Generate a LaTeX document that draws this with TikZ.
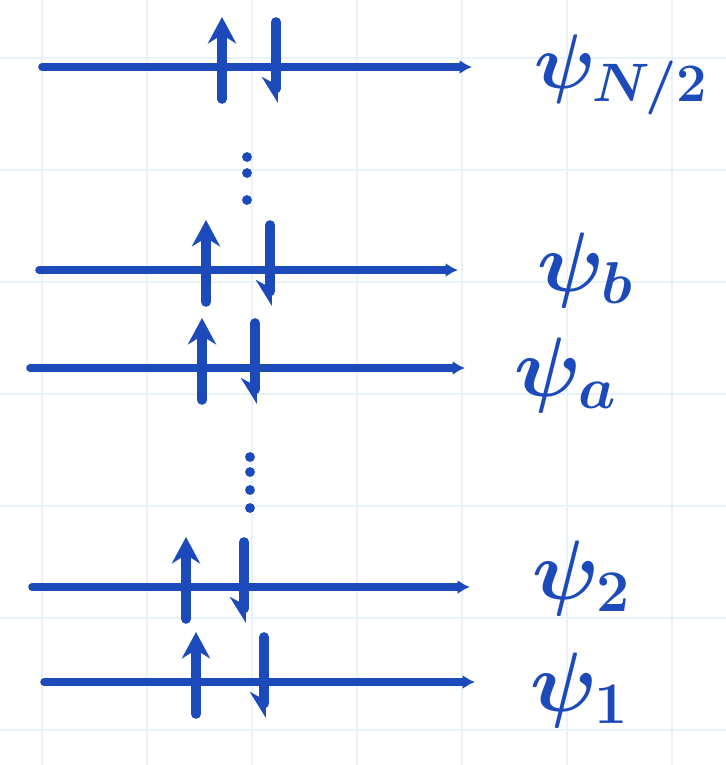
\RequirePackage{fix-cm}
\documentclass[tikz,border=0pt]{standalone}
\usepackage{tikz}
\usepackage{xcolor}
\usetikzlibrary{arrows.meta}

\definecolor{ink}{RGB}{28,74,186}
\definecolor{gridpaper}{RGB}{232,242,248}

\begin{document}
\begin{tikzpicture}[x=0.02cm, y=-0.02cm,
    levelline/.style={ink, line width=4.3pt, line cap=round, -{Latex[length=7pt,width=8pt]}},
    spinup/.style={ink, line width=5.5pt, line cap=round, -{Stealth[length=15pt,width=16pt]}},
    spindown/.style={ink, line width=5.5pt, line cap=round, -{Stealth[length=13pt,width=16pt,right]}},
    orblabel/.style={ink, anchor=base west, inner sep=0pt, font=\fontsize{48}{50}\selectfont\boldmath}]
  % Paper with faint grid
  \useasboundingbox (0,0) rectangle (726,765);
  \fill[white] (0,0) rectangle (726,765);
  \foreach \gx in {42,147,...,672} \draw[gridpaper, line width=0.6pt] (\gx,0) -- (\gx,765);
  \foreach \gy in {58,170,...,730} \draw[gridpaper, line width=0.6pt] (0,\gy) -- (726,\gy);

  % Define orbital level macro
  % #1=name, #2=y, #3=x left, #4=x right, #5=x up spin, #6=x down spin
  \newcommand{\orbitallevel}[6]{%
    \coordinate (#1-l) at (#3,#2);
    \coordinate (#1-r) at (#4,#2);
    \draw[levelline] (#1-l) -- (#1-r);
    \coordinate (#1-ua) at (#5,#2+32);
    \coordinate (#1-ub) at (#5,#2-50);
    \draw[spinup] (#1-ua) -- (#1-ub);
    \coordinate (#1-da) at (#6,#2-45);
    \coordinate (#1-db) at (#6,#2+36);
    \draw[spindown] (#1-da) -- (#1-db);
  }

  % Occupied levels, highest first
  \orbitallevel{lvN}{67}{42}{472}{222}{276}
  \orbitallevel{lvb}{270}{39}{458}{206}{270}
  \orbitallevel{lva}{368}{30}{465}{202}{255}
  \orbitallevel{lvtwo}{587}{32}{470}{186}{244}
  \orbitallevel{lvone}{682}{44}{475}{196}{264}

  % Level labels
  \node[orblabel, font=\fontsize{44}{46}\selectfont\boldmath] (psiN) at (534,88) {$\psi_{N/2}$};
  \node[orblabel] (psib) at (537,291) {$\psi_b$};
  \node[orblabel] (psia) at (514,396) {$\psi_a$};
  \node[orblabel] (psitwo) at (532,599) {$\psi_2$};
  \node[orblabel] (psione) at (530,711) {$\psi_1$};

  % Vertical dots between levels
  \foreach \dy in {157,173,200} \fill[ink] (247,\dy) circle (2.8pt);
  \foreach \dy in {457,472,490,508} \fill[ink] (250,\dy) circle (2.8pt);
\end{tikzpicture}
\end{document}
